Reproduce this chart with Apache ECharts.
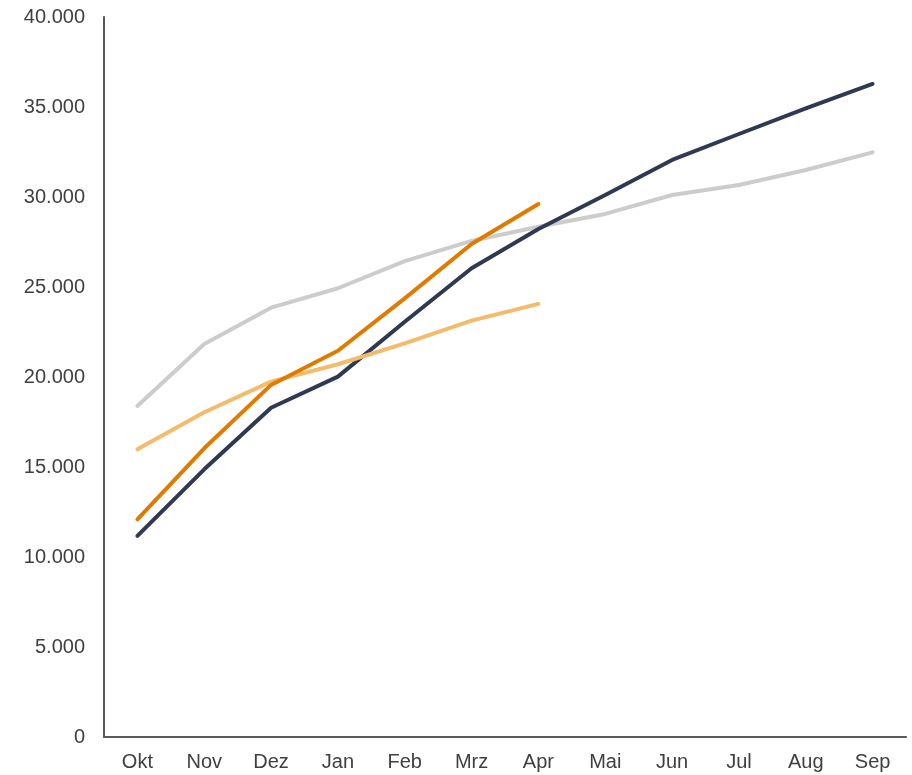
<!DOCTYPE html>
<html>
<head>
<meta charset="utf-8">
<script src="https://cdn.jsdelivr.net/npm/echarts@6/dist/echarts.min.js"></script>
<style>
  html, body { margin: 0; padding: 0; background: #fff; }
  #chart { width: 912px; height: 775px; }
</style>
</head>
<body>
<div id="chart"></div>
<script>
// Monatskategorien (Geschäftsjahr Okt–Sep)
const months = ['Okt', 'Nov', 'Dez', 'Jan', 'Feb', 'Mrz', 'Apr', 'Mai', 'Jun', 'Jul', 'Aug', 'Sep'];

// Kumulierte Werte je Reihe
const seriesNavy = [11170, 14870, 18290, 20020, 23070, 26040, 28220, 30110, 32060, 33500, 34930, 36280];
const seriesGray = [18390, 21830, 23850, 24930, 26440, 27560, 28350, 29060, 30110, 30670, 31500, 32480];
const seriesOrange = [12090, 16040, 19560, 21460, 24370, 27390, 29610];
const seriesLightOrange = [15980, 18040, 19740, 20710, 21870, 23130, 24060];

// Achsenskala
const yMin = 0;
const yMax = 40000;
const yStep = 5000;

function fmtDe(v) {
  return String(v).replace(/\B(?=(\d{3})+(?!\d))/g, '.');
}

const chart = echarts.init(document.getElementById('chart'), null, { renderer: 'canvas' });

function line(name, data, color, z) {
  return {
    name: name,
    type: 'line',
    data: data,
    symbol: 'none',
    smooth: false,
    z: z,
    lineStyle: { color: color, width: 4, cap: 'round', join: 'round' },
    itemStyle: { color: color }
  };
}

chart.setOption({
  animation: false,
  backgroundColor: '#ffffff',
  grid: { left: 104, right: 6, top: 17, bottom: 38, containLabel: false },
  xAxis: {
    type: 'category',
    data: months,
    boundaryGap: true,
    axisLine: { show: true, lineStyle: { color: '#595959', width: 2 } },
    axisTick: { show: false },
    axisLabel: {
      color: '#404040',
      fontFamily: 'Liberation Sans, Arial, sans-serif',
      fontSize: 20,
      margin: 15
    },
    splitLine: { show: false }
  },
  yAxis: {
    type: 'value',
    min: yMin,
    max: yMax,
    interval: yStep,
    axisLine: { show: true, lineStyle: { color: '#595959', width: 2 } },
    axisTick: { show: false },
    axisLabel: {
      color: '#404040',
      fontFamily: 'Liberation Sans, Arial, sans-serif',
      fontSize: 20,
      margin: 19,
      formatter: fmtDe
    },
    splitLine: { show: false }
  },
  series: [
    line('Vorjahr', seriesGray, '#CCCCCC', 1),
    line('Plan', seriesNavy, '#2F3A52', 2),
    line('Vorvorjahr', seriesLightOrange, '#F3BB6A', 3),
    line('Ist', seriesOrange, '#E07B00', 4)
  ]
});
</script>
</body>
</html>
